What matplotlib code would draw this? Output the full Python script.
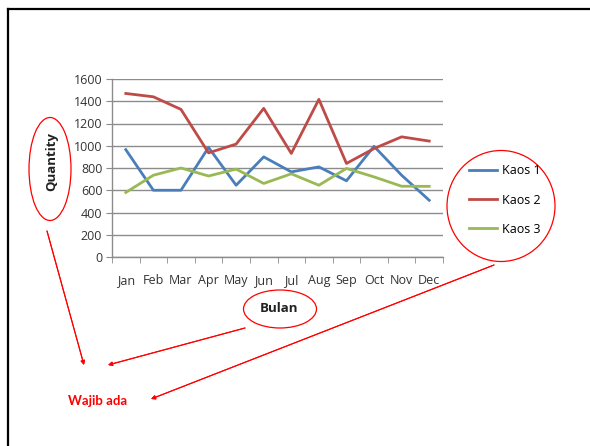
import numpy as np
import matplotlib.pyplot as plt
from matplotlib.patches import Ellipse
from matplotlib.lines import Line2D

plt.rcParams['font.family'] = ['Open Sans', 'DejaVu Sans']

months = ['Jan', 'Feb', 'Mar', 'Apr', 'May', 'Jun', 'Jul', 'Aug', 'Sep', 'Oct', 'Nov', 'Dec']
kaos1 = [965, 600, 600, 985, 645, 900, 765, 810, 685, 995, 735, 510]
kaos2 = [1470, 1440, 1327, 936, 1015, 1336, 931, 1417, 841, 975, 1080, 1042]
kaos3 = [580, 735, 800, 728, 790, 661, 748, 645, 796, 720, 636, 635]
yticks = [0, 200, 400, 600, 800, 1000, 1200, 1400, 1600]

W, H = 590, 446
fig = plt.figure(figsize=(W / 100, H / 100), dpi=100)

def fx(x):
    return x / W

def fy(y):
    return 1 - y / H

# slide frame
fig.add_artist(Line2D([fx(8), fx(8)], [0, fy(9)], transform=fig.transFigure, color='black', lw=1.6))
fig.add_artist(Line2D([fx(8), 1], [fy(9), fy(9)], transform=fig.transFigure, color='black', lw=1.6))

ax = fig.add_axes([fx(112), fy(257), fx(443) - fx(112), fy(79) - fy(257)])
x = np.arange(len(months))
l1, = ax.plot(x, kaos1, color='#4a7ebb', lw=2.0, label='Kaos 1')
l2, = ax.plot(x, kaos2, color='#be4b48', lw=2.0, label='Kaos 2')
l3, = ax.plot(x, kaos3, color='#98b954', lw=2.0, label='Kaos 3')

ax.set_xlim(-0.5, 11.5)
ax.set_ylim(0, 1600)
ax.set_yticks(yticks)
ax.set_xticks(x)
ax.set_xticklabels(months)
ax.set_xticks(np.arange(-0.5, 12, 1), minor=True)
ax.tick_params(axis='x', which='major', length=0, pad=12.5, labelsize=9, colors='#333333')
ax.tick_params(axis='x', which='minor', length=4, color='#8c8c8c', direction='out')
ax.tick_params(axis='y', length=4, labelsize=9, colors='#333333', pad=3)
ax.tick_params(axis='y', color='#8c8c8c')
ax.grid(axis='y', color='#8c8c8c', lw=1.0)
ax.set_axisbelow(True)
for s in ['top', 'right']:
    ax.spines[s].set_visible(False)
for s in ['left', 'bottom']:
    ax.spines[s].set_color('#8c8c8c')
    ax.spines[s].set_linewidth(1.0)

ax.set_ylabel('Quantity', fontsize=9.5, fontweight='bold', color='#222222')
ax.yaxis.set_label_coords(fx(52), fy(162), transform=fig.transFigure)
ax.set_xlabel('Bulan', fontsize=9.5, fontweight='bold', color='#222222')
ax.xaxis.set_label_coords(fx(279), fy(309), transform=fig.transFigure)
ax.xaxis.label.set_va('center')
ax.yaxis.label.set_va('center')

fig.legend(handles=[l1, l2, l3], loc='center left', bbox_to_anchor=(fx(458), fy(200)),
           frameon=False, fontsize=9, handlelength=2.2, labelspacing=1.3, handletextpad=0.45)

# red annotations
red = '#ff0000'
for cx, cy, w, h in [(50, 169, 42, 103), (501, 206, 108, 111), (280, 309, 73, 38)]:
    fig.add_artist(Ellipse((cx, H - cy), w, h, transform=None, fill=False, ec=red, lw=0.9))

arrows = [((47, 231), (84, 365)), ((245, 328), (108, 365)), ((494, 265), (151, 399))]
for (x0, y0), (x1, y1) in arrows:
    fig.add_artist(plt.annotate('', xy=(x1, H - y1), xytext=(x0, H - y0), xycoords='figure pixels',
                                textcoords='figure pixels',
                                arrowprops=dict(arrowstyle='-|>', color=red, lw=0.8,
                                                mutation_scale=6, shrinkA=0, shrinkB=0)))

fig.text(fx(68), fy(401), 'Wajib ada', color=red, fontsize=9.5, fontweight='bold', va='center', ha='left',
         family=['Lato', 'DejaVu Sans'])

fig.savefig('out.png', dpi=100)
